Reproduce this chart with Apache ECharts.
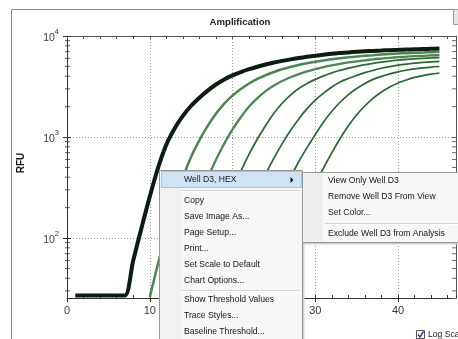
<!DOCTYPE html>
<html>
<head>
<meta charset="utf-8">
<script src="https://cdn.jsdelivr.net/npm/echarts@6/dist/echarts.min.js"></script>
<style>html,body{margin:0;padding:0;background:#fff;overflow:hidden}#c{width:458px;height:339px}</style>
</head>
<body>
<div id="c"></div>
<script>
// ---- data (null = below the visible baseline) ----
const cycles = [1,2,3,4,5,6,7,8,9,10,11,12,13,14,15,16,17,18,19,20,21,22,23,24,25,26,27,28,29,30,31,32,33,34,35,36,37,38,39,40,41,42,43,44,45];
const wellA = [27,27,27,27,27,27,27,60,126,257,495,841,1216,1620,2040,2450,2880,3310,3720,4070,4390,4690,4960,5220,5460,5670,5870,6050,6220,6380,6530,6670,6780,6880,6970,7050,7120,7180,7240,7290,7340,7380,7420,7460,7500];
const wellB = [null,null,null,null,null,null,null,null,null,26,56,115,224,398,638,933,1290,1700,2140,2570,2990,3390,3760,4090,4400,4680,4930,5160,5370,5560,5730,5890,6030,6150,6270,6370,6460,6550,6620,6700,6760,6820,6870,6920,6970];
const wellC = [null,null,null,null,null,null,null,null,null,null,null,null,26,63,129,234,389,596,861,1190,1570,2000,2430,2850,3240,3590,3910,4200,4470,4710,4930,5130,5310,5470,5620,5750,5880,5980,6080,6170,6240,6310,6370,6430,6470];
const wellD = [null,null,null,null,null,null,null,null,null,null,null,null,null,null,null,26,42,89,178,302,457,676,955,1300,1720,2160,2600,3020,3390,3720,4030,4320,4570,4810,5010,5200,5370,5520,5650,5770,5860,5940,6010,6070,6120];
const wellE = [null,null,null,null,null,null,null,null,null,null,null,null,null,null,null,null,null,null,26,40,85,166,282,427,617,861,1160,1510,1910,2320,2720,3130,3510,3800,4070,4340,4570,4790,4980,5140,5270,5380,5470,5550,5610];
const wellF = [null,null,null,null,null,null,null,null,null,null,null,null,null,null,null,null,null,null,null,null,null,26,38,79,155,263,398,569,785,1060,1410,1800,2210,2630,3020,3390,3720,3980,4220,4420,4580,4720,4830,4920,4990];
const wellG = [null,null,null,null,null,null,null,null,null,null,null,null,null,null,null,null,null,null,null,null,null,null,null,null,26,35,72,138,234,351,495,700,966,1290,1660,2040,2430,2790,3130,3430,3670,3890,4060,4190,4300];
const logMinorTicks = [30,40,50,60,70,80,90,200,300,400,500,600,700,800,900,2000,3000,4000,5000,6000,7000,8000,9000];
const chartTitle = 'Amplification';
const yName = 'RFU';
const menuHead = 'Well D3, HEX';
const menuGroup1 = ['Copy','Save Image As...','Page Setup...','Print...','Set Scale to Default','Chart Options...'];
const menuGroup2 = ['Show Threshold Values','Trace Styles...','Baseline Threshold...'];
const subGroup1 = ['View Only Well D3','Remove Well D3 From View','Set Color...'];
const subGroup2 = ['Exclude Well D3 from Analysis'];
const checkLabel = 'Log Scale';

// ---- build ----
const UI = '"Liberation Sans", Arial, sans-serif';
function pairs(arr){ return cycles.map((c,i)=>[c, arr[i] == null ? '-' : arr[i]]); }
const YMIN = 25.5, YMAX = 10000, XMAX = 47;

const greens = [
  {d: wellG, c:'#2a6832', w:1.7},
  {d: wellF, c:'#2a6832', w:1.7},
  {d: wellE, c:'#2a6832', w:1.7},
  {d: wellD, c:'#2d6c35', w:1.8},
  {d: wellC, c:'#4f8754', w:2.3},
  {d: wellB, c:'#4c8551', w:2.5}
];
const series = greens.map(g => ({
  type:'line', data: pairs(g.d), xAxisIndex:0, yAxisIndex:0, showSymbol:false, symbol:'none',
  smooth:0.3, connectNulls:false,
  lineStyle:{color:g.c, width:g.w}, silent:true, z:3
}));
series.push({type:'line', data: pairs(wellA), xAxisIndex:0, yAxisIndex:0, showSymbol:false, symbol:'none',
  smooth:0.3,
  lineStyle:{color:'#0c1c10', width:4}, silent:true, z:4});
series.push({type:'scatter', xAxisIndex:0, yAxisIndex:0, data: logMinorTicks.map(v=>[0,v]), symbol:'rect',
  symbolSize:[5,1], symbolOffset:[0.5,0], itemStyle:{color:'#333'}, silent:true, clip:false, z:5});
series.push({type:'scatter', xAxisIndex:0, yAxisIndex:0, data: logMinorTicks.map(v=>[XMAX,v]), symbol:'rect',
  symbolSize:[4,1], symbolOffset:[-2,0], itemStyle:{color:'#444'}, silent:true, clip:false, z:5});

function txt(x, y, s, font, fill, align, extra){
  return Object.assign({type:'text', x:x, y:y, z:110, silent:true,
    style:{text:s, font:font, fill:fill||'#1b1b1b', align:align||'left', textAlign:align||'left',
      verticalAlign:'middle', textVerticalAlign:'middle'}}, extra||{});
}
function rect(x,y,w,h,fill,stroke,z){
  return {type:'rect', z:z, silent:true, shape:{x:x,y:y,width:w,height:h}, style:{fill:fill, stroke:stroke||null, lineWidth:1}};
}
function hline(x1,x2,y,color,z){
  return {type:'line', z:z, silent:true, shape:{x1:x1,y1:y,x2:x2,y2:y}, style:{stroke:color, lineWidth:1}};
}

const els = [];
const MENU_FONT = '8.6px ' + UI, MENU_INK = '#141414';
// panel frame
els.push({type:'polyline', z:1, silent:true, shape:{points:[[11.5,345],[11.5,9.5],[453,9.5]]}, style:{stroke:'#8a8a8a', lineWidth:1, fill:null}});
els.push(rect(453.5,9.5,6,15,'#e6e6e6','#9c9c9c',1));
els.push(txt(240, 22, chartTitle, 'bold 9.6px ' + UI, '#222', 'center', {z:5}));
els.push(txt(21, 163, yName, 'bold 10px ' + UI, '#111', 'center', {z:5, rotation:Math.PI/2}));

// main context menu
const MX = 159.5, MY = 170.5, MW = 143;
els.push(rect(MX+2, MY+2, MW, 200, '#d2d2d2', null, 100));
els.push(rect(MX, MY, MW, 200, '#f7f7f7', '#979797', 101));
els.push(rect(MX+1, MY+1, 21, 198, '#f1f1f1', null, 102));
els.push(rect(161.5, 171.5, 140, 16, '#cde4f7', '#9cc6ec', 103));
els.push(txt(184, 180, menuHead, MENU_FONT, MENU_INK, 'left'));
els.push({type:'polygon', z:110, silent:true, shape:{points:[[290.5,177],[290.5,183],[293.5,180]]}, style:{fill:'#111'}});
els.push(hline(182, 300, 190.5, '#d4d4d4', 104));
els.push(hline(182, 300, 191.5, '#ffffff', 104));
menuGroup1.forEach((s,i)=> els.push(txt(184, 201 + i*15.9, s, MENU_FONT, MENU_INK, 'left')));
els.push(hline(182, 300, 290.5, '#d4d4d4', 104));
els.push(hline(182, 300, 291.5, '#ffffff', 104));
menuGroup2.forEach((s,i)=> els.push(txt(184, 300 + i*16, s, MENU_FONT, MENU_INK, 'left')));

// sub menu
const SX = 302.5, SY = 172.5;
els.push(rect(SX+2, SY+2, 170, 70, '#d2d2d2', null, 105));
els.push(rect(SX, SY, 170, 70, '#f7f7f7', '#979797', 106));
els.push(rect(SX+1, SY+1, 19, 68, '#ededed', null, 107));
subGroup1.forEach((s,i)=> els.push(txt(328, 181 + i*16, s, MENU_FONT, MENU_INK, 'left')));
els.push(hline(325, 460, 223.5, '#d4d4d4', 108));
els.push(hline(325, 460, 224.5, '#ffffff', 108));
subGroup2.forEach((s,i)=> els.push(txt(328, 233.5 + i*16, s, MENU_FONT, MENU_INK, 'left')));

// check box
els.push(rect(416.5, 330.5, 8, 8, '#ffffff', '#555', 109));
els.push({type:'polyline', z:110, silent:true, shape:{points:[[418,334.5],[420,337],[423.5,331.5]]}, style:{stroke:'#1f3f8f', lineWidth:1.4, fill:null}});
els.push(txt(428, 334.5, checkLabel, MENU_FONT, MENU_INK, 'left'));

const axisCol = '#333';
const gridLine = {show:true, lineStyle:{color:'#9c9c9c', width:1, type:[1,2]}};

const option = {
  animation:false,
  backgroundColor:'#ffffff',
  grid:{left:67, top:36, right:2, bottom:41, containLabel:false, outerBoundsMode:'none'},
  xAxis:[
    {type:'value', min:0, max:XMAX, interval:10, position:'bottom',
      axisLine:{show:true, onZero:false, lineStyle:{color:axisCol, width:1}},
      axisTick:{show:true, inside:false, length:4, lineStyle:{color:axisCol}},
      axisLabel:{show:true, color:'#3a3a3a', fontSize:11, fontFamily:UI, margin:7, showMaxLabel:false},
      splitLine:gridLine},
    {type:'value', min:0, max:XMAX, interval:2, position:'bottom',
      axisLine:{show:false, onZero:false}, axisTick:{show:true, inside:true, length:3, lineStyle:{color:axisCol}},
      axisLabel:{show:false}, splitLine:{show:false}},
    {type:'value', min:0, max:XMAX, interval:2, position:'top',
      axisLine:{show:true, onZero:false, lineStyle:{color:'#555', width:1}},
      axisTick:{show:true, inside:true, length:3, lineStyle:{color:'#555'}},
      axisLabel:{show:false}, splitLine:{show:false}}
  ],
  yAxis:[
    {type:'log', logBase:10, min:YMIN, max:YMAX, position:'left',
      axisLine:{show:true, onZero:false, lineStyle:{color:axisCol, width:1}},
      axisTick:{show:true, inside:false, length:4, lineStyle:{color:axisCol}},
      axisLabel:{show:true, showMinLabel:false, margin:8,
        formatter:function(v){ return '{b|10}{e|' + Math.round(Math.log10(v)) + '}'; },
        rich:{
          b:{fontSize:10.5, fontFamily:UI, color:'#3a3a3a', lineHeight:16, verticalAlign:'bottom'},
          e:{fontSize:7.5, fontFamily:UI, color:'#3a3a3a', lineHeight:5, verticalAlign:'top'}
        }},
      splitLine:gridLine},
    {type:'log', logBase:10, min:YMIN, max:YMAX, position:'left',
      axisLine:{show:false, onZero:false}, axisTick:{show:true, inside:true, length:4, lineStyle:{color:axisCol}},
      axisLabel:{show:false}, splitLine:{show:false}},
    {type:'log', logBase:10, min:YMIN, max:YMAX, position:'right',
      axisLine:{show:true, onZero:false, lineStyle:{color:'#555', width:1}},
      axisTick:{show:true, inside:true, length:4, lineStyle:{color:'#555'}},
      axisLabel:{show:false}, splitLine:{show:false}}
  ],
  series: series,
  graphic:{elements: els}
};
const chart = echarts.init(document.getElementById('c'), null, {renderer:'canvas'});
chart.setOption(option);
</script>
</body>
</html>
